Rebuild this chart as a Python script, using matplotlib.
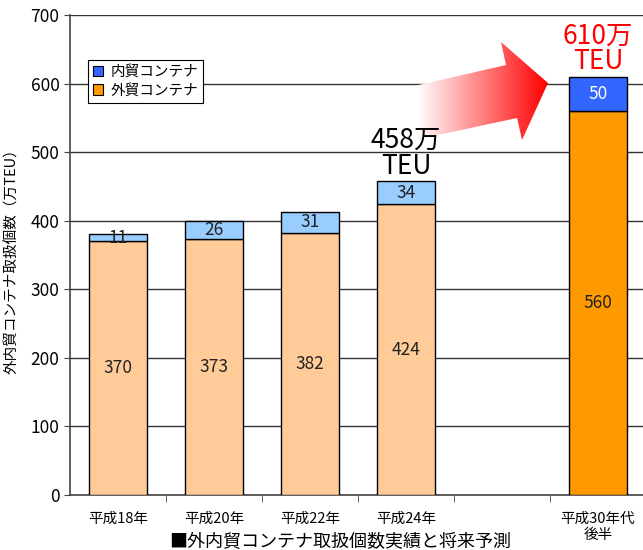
import numpy as np
import matplotlib
matplotlib.use("Agg")
import matplotlib.pyplot as plt
from matplotlib.patches import Polygon, Patch

plt.rcParams['font.family'] = ['Noto Sans CJK JP', 'DejaVu Sans']

# ========== データ ==========
categories = ["平成18年", "平成20年", "平成22年", "平成24年", "", "平成30年代\n後半"]
gaibo = [370, 373, 382, 424, None, 560]   # 外貿コンテナ
naibo = [11, 26, 31, 34, None, 50]        # 内貿コンテナ
gaibo_colors = ["#FFCC99"] * 4 + [None, "#FF9900"]
naibo_colors = ["#99CCFF"] * 4 + [None, "#3366FF"]
naibo_text_colors = ["#222222"] * 4 + [None, "white"]
totals_text = {3: ("458万\nTEU", "black"), 5: ("610万\nTEU", "#FF0000")}

fig = plt.figure(figsize=(6.43, 5.5), dpi=100)
ax = fig.add_axes([70 / 643, 55 / 550, 1.0 - 70 / 643, 480 / 550])

x = np.arange(len(categories))
w = 0.6
for i in x:
    if gaibo[i] is None:
        continue
    ax.bar(i, gaibo[i], w, color=gaibo_colors[i], edgecolor="black", linewidth=1, zorder=3)
    ax.bar(i, naibo[i], w, bottom=gaibo[i], color=naibo_colors[i], edgecolor="black",
           linewidth=1, zorder=3)
    ax.text(i, gaibo[i] / 2, str(gaibo[i]), ha="center", va="center", fontsize=12.5,
            color="#222222", zorder=4)
    ax.text(i, gaibo[i] + naibo[i] / 2, str(naibo[i]), ha="center", va="center",
            fontsize=12.5, color=naibo_text_colors[i], zorder=4)

ax.set_xlim(-0.5, 5.47)
ax.set_ylim(0, 700)
ax.set_yticks(range(0, 701, 100))
ax.set_xticks(x)
ax.set_xticklabels(categories, fontsize=10.5, linespacing=1.2)
ax.set_xticks(np.arange(0.5, 5, 1), minor=True)
ax.tick_params(axis="x", which="major", length=0, pad=12)
ax.tick_params(axis="x", which="minor", length=5, direction="out", color="#444444")
ax.tick_params(axis="y", labelsize=12.5, length=4, direction="out", color="#444444")
ax.yaxis.grid(True, color="#333333", linewidth=1, zorder=0)
ax.set_axisbelow(True)
for s in ["top", "right"]:
    ax.spines[s].set_visible(False)
for s in ["left", "bottom"]:
    ax.spines[s].set_color("#444444")
    ax.spines[s].set_linewidth(1.2)

fig.text(12 / 643, 1 - 258 / 550, "外内貿コンテナ取扱個数（万TEU）", rotation=90,
         ha="center", va="center", fontsize=10.5)
fig.text(340 / 643, 1 - 541 / 550, "■外内貿コンテナ取扱個数実績と将来予測",
         ha="center", va="center", fontsize=13)

handles = [Patch(facecolor="#3366FF", edgecolor="black", linewidth=0.8),
           Patch(facecolor="#FF9900", edgecolor="black", linewidth=0.8)]
leg = ax.legend(handles, ["内貿コンテナ", "外貿コンテナ"], loc="upper left",
                bbox_to_anchor=(0.031, 0.906), borderaxespad=0, fontsize=10.5,
                handlelength=0.7, handleheight=0.7, handletextpad=0.5,
                labelspacing=0.3, borderpad=0.35, fancybox=False, framealpha=1,
                edgecolor="black")
leg.get_frame().set_linewidth(0.8)

# ========== 矢印（グラデーション） ==========
ov = fig.add_axes([0, 0, 1, 1], zorder=5)
ov.set_xlim(0, 643)
ov.set_ylim(550, 0)
ov.axis("off")
arrow_pts = [(410, 87), (506, 65), (501, 42), (548, 83), (522, 140), (517, 118), (410, 141)]
poly = Polygon(arrow_pts, closed=True, facecolor="none", edgecolor="none")
ov.add_patch(poly)
grad = np.linspace(0, 1, 256)
grad = np.clip((grad - 0.05) / 0.95, 0, 1)
rgb = np.ones((1, 256, 3))
rgb[0, :, 1] = 1 - grad
rgb[0, :, 2] = 1 - grad
img = ov.imshow(rgb, extent=(410, 548, 145, 40), aspect="auto", interpolation="bilinear")
img.set_clip_path(poly)
ov.set_xlim(0, 643)
ov.set_ylim(550, 0)

# 合計ラベル（矢印の上に描く）
for i, (txt, col) in totals_text.items():
    ov.annotate(txt, (i, gaibo[i] + naibo[i]), xycoords=ax.transData,
                xytext=(0, 1), textcoords="offset points",
                ha="center", va="bottom", fontsize=19, color=col, linespacing=0.95)

fig.savefig("out.png", dpi=100)
